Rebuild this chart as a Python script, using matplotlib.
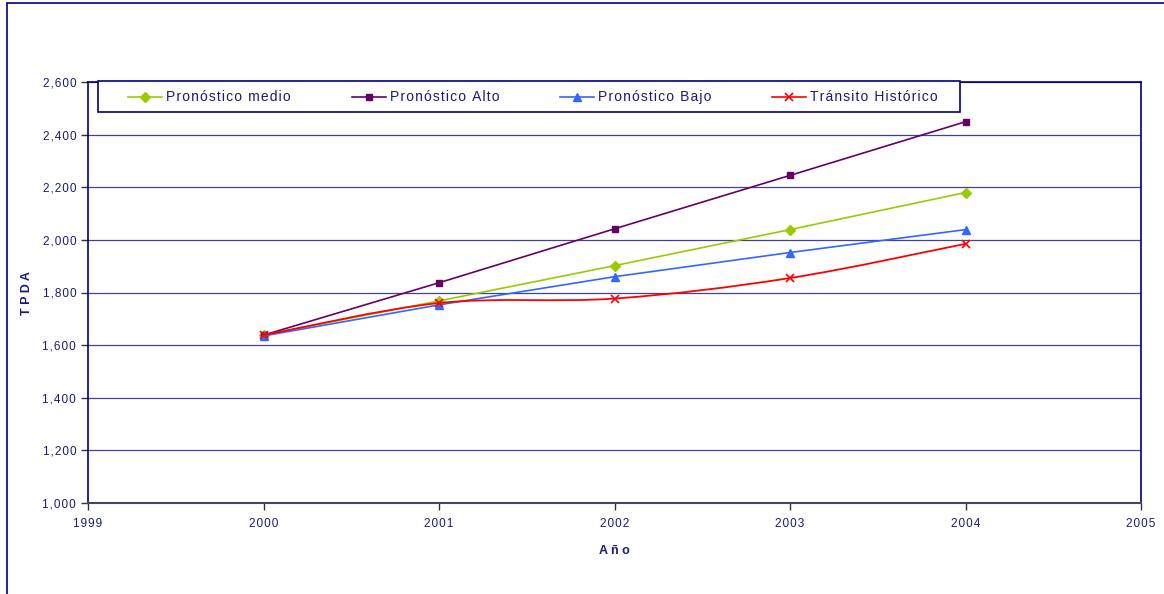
import matplotlib
matplotlib.use("Agg")
import matplotlib.pyplot as plt
from matplotlib.path import Path
from matplotlib.patches import PathPatch, Rectangle
from matplotlib.lines import Line2D
from matplotlib.ticker import FuncFormatter
import numpy as np

plt.rcParams['font.family'] = ['Liberation Sans', 'DejaVu Sans']

years = [2000, 2001, 2002, 2003, 2004]
medio = [1638, 1768, 1902, 2039, 2180]
alto = [1638, 1837, 2042, 2245, 2449]
bajo = [1635, 1753, 1860, 1952, 2039]
historico = [1638, 1760, 1777, 1855, 1985]
series_names = ['Pronóstico medio', 'Pronóstico Alto', 'Pronóstico Bajo', 'Tránsito Histórico']

NAVY = '#000080'
TXT = '#1a1a78'
HS = '\u200a'
W, H = 1164, 594


def spaced(s):
    return HS.join(s)


fig = plt.figure(figsize=(W/100, H/100), dpi=100)
ax = fig.add_axes([88/W, 1-503/H, (1141-88)/W, (503-82)/H])

# outer frame
fig.patches.append(Rectangle((7/W, -0.05), 1.2, 1-3/H+0.05, transform=fig.transFigure,
                             fill=False, edgecolor=NAVY, lw=1.2, zorder=0))

ax.set_xlim(1999, 2005)
ax.set_ylim(1000, 2600)
ax.set_yticks(np.arange(1000, 2601, 200))
ax.set_xticks(np.arange(1999, 2006, 1))
ax.yaxis.set_major_formatter(FuncFormatter(lambda v, p: spaced(f"{int(v):,}")))
ax.xaxis.set_major_formatter(FuncFormatter(lambda v, p: spaced(f"{int(v)}")))
ax.grid(axis='y', color='#20208a', lw=0.9, alpha=0.85)
ax.set_axisbelow(True)
for s in ['left', 'right', 'top']:
    ax.spines[s].set_color(NAVY)
    ax.spines[s].set_linewidth(1.2)
ax.spines['bottom'].set_color('#444466')
ax.spines['bottom'].set_linewidth(1.5)
ax.tick_params(axis='both', colors='#333333', labelcolor=TXT, labelsize=8.5, length=5, width=1)
ax.tick_params(axis='x', pad=6)

styles = [
    dict(color='#99cc00', marker='D', ms=5),
    dict(color='#660066', marker='s', ms=5),
    dict(color='#3366ff', marker='^', ms=6),
    dict(color='#ff0000', marker='x', ms=6, mew=1.2),
]

ax.plot(years, medio, lw=1.2, zorder=3, **styles[0])
ax.plot(years, alto, lw=1.2, zorder=3, **styles[1])
ax.plot(years, bajo, lw=1.2, zorder=3, **styles[2])

# smoothed historic line (Catmull-Rom Bezier through data points)
xs = np.array(years, dtype=float)
ys = np.array(historico, dtype=float)
verts = [(xs[0], ys[0])]
codes = [Path.MOVETO]
n = len(xs)
for i in range(n - 1):
    p0 = (xs[max(i-1, 0)], ys[max(i-1, 0)])
    p1 = (xs[i], ys[i])
    p2 = (xs[i+1], ys[i+1])
    p3 = (xs[min(i+2, n-1)], ys[min(i+2, n-1)])
    t = 1/6
    c1 = (p1[0] + (p2[0]-p0[0])*t, p1[1] + (p2[1]-p0[1])*t)
    c2 = (p2[0] - (p3[0]-p1[0])*t, p2[1] - (p3[1]-p1[1])*t)
    verts += [c1, c2, p2]
    codes += [Path.CURVE4]*3
ax.add_patch(PathPatch(Path(verts, codes), fill=False, edgecolor='#ff0000', lw=1.3, zorder=4))
ax.plot(years, historico, lw=0, zorder=5, **styles[3])

# legend (drawn as a boxed key above the plot)
fig.patches.append(Rectangle((98/W, 1-112/H), (960-98)/W, 31/H, transform=fig.transFigure,
                             facecolor='white', edgecolor=NAVY, lw=1.2, zorder=9))
key_x = [128, 352, 560, 772]
key_len = 34
key_y = 97
for kx, name, st in zip(key_x, series_names, styles):
    fig.lines.append(Line2D([kx/W, (kx+key_len)/W], [1-key_y/H, 1-key_y/H],
                            transform=fig.transFigure, lw=1.2, markevery=[], zorder=10,
                            color=st['color']))
    fig.lines.append(Line2D([(kx+key_len/2)/W], [1-key_y/H], transform=fig.transFigure,
                            lw=0, zorder=11, **st))
    fig.text((kx+key_len+4)/W, 1-101/H, spaced(name), ha='left', va='baseline',
             fontsize=10, color=TXT, zorder=12)

fig.text(27/W, 1-293/H, 'T P D A', rotation=90, ha='center', va='center',
         fontsize=9, fontweight='bold', color=TXT)
fig.text(614/W, 1-551/H, 'A ñ o', ha='center', va='center',
         fontsize=9, fontweight='bold', color=TXT)

fig.savefig('out.png', dpi=100)
